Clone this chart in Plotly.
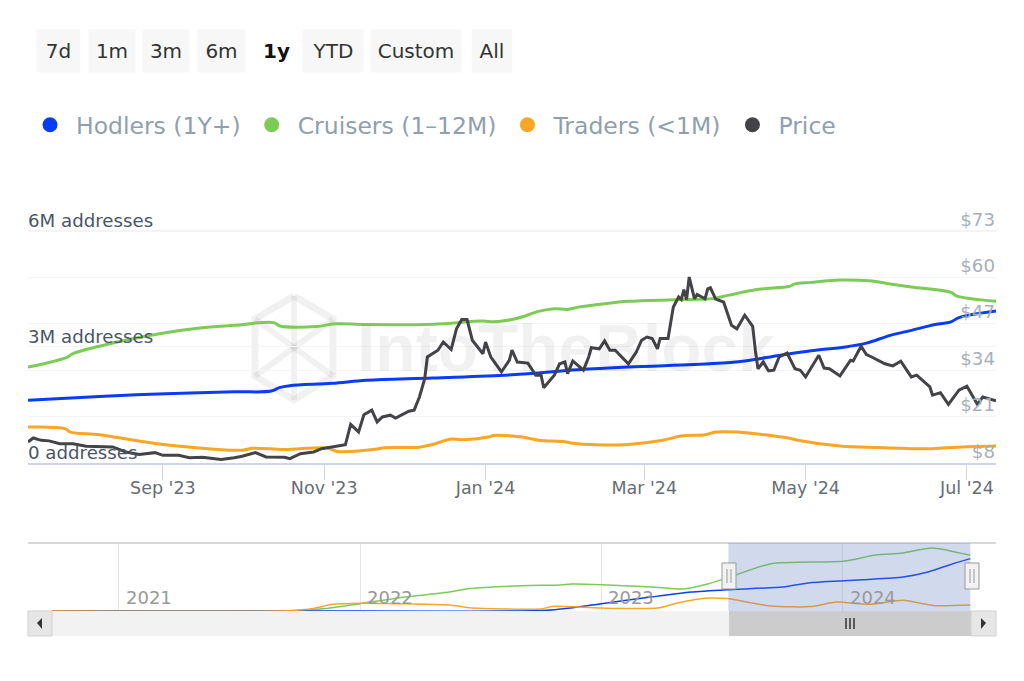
import plotly.graph_objects as go
from datetime import date, timedelta


def paper_x(x_px):
    # Pixel position in the window to paper fraction
    return x_px / 1024


def paper_y(y_px):
    return 1 - y_px / 681


def days_to_dates(days):
    # Series below are held as days since the left edge of the 1y window
    start = date(2023, 7, 12)
    return [start + timedelta(days=d) for d in days]


# Addresses by holding time in the 1y window, in millions
hodlers = {
    "days": [0, 27, 52, 78, 92, 95, 99, 115, 128, 153, 183, 208, 227, 259, 271, 284, 296, 309, 317, 326, 334, 343, 349, 352, 366],
    "value": [1.62, 1.72, 1.79, 1.84, 1.86, 1.95, 2.00, 2.06, 2.14, 2.20, 2.28, 2.41, 2.48, 2.57, 2.64, 2.78, 2.90, 3.00, 3.10, 3.30, 3.43, 3.58, 3.65, 3.76, 3.93],
}
cruisers = {
    "days": [0, 15, 17, 27, 40, 52, 65, 78, 93, 95, 109, 116, 128, 153, 172, 176, 183, 187, 193, 199, 204, 208, 218, 227, 244, 259, 265, 275, 288, 290, 296, 307, 318, 326, 334, 349, 351, 366],
    "value": [2.48, 2.74, 2.83, 3.02, 3.22, 3.37, 3.49, 3.56, 3.63, 3.55, 3.53, 3.60, 3.58, 3.59, 3.67, 3.65, 3.71, 3.78, 3.92, 3.99, 3.97, 4.03, 4.12, 4.18, 4.22, 4.25, 4.34, 4.48, 4.57, 4.63, 4.67, 4.73, 4.71, 4.63, 4.55, 4.41, 4.32, 4.18],
}
traders = {
    "days": [0, 14, 16, 27, 40, 52, 68, 81, 85, 97, 113, 117, 132, 134, 148, 153, 160, 164, 174, 176, 183, 187, 193, 203, 206, 215, 227, 240, 247, 256, 260, 268, 288, 291, 307, 322, 342, 351, 366],
    "value": [0.93, 0.89, 0.80, 0.73, 0.59, 0.47, 0.37, 0.33, 0.38, 0.35, 0.39, 0.30, 0.36, 0.39, 0.41, 0.48, 0.62, 0.60, 0.67, 0.71, 0.70, 0.67, 0.59, 0.55, 0.51, 0.47, 0.48, 0.59, 0.70, 0.73, 0.80, 0.80, 0.64, 0.59, 0.44, 0.40, 0.37, 0.41, 0.44],
}
price = {
    "days": [0, 2, 5, 8, 12, 17, 22, 27, 32, 37, 42, 48, 51, 57, 61, 66, 73, 78, 81, 86, 90, 97, 99, 103, 108, 111, 115, 120, 122, 125, 127, 130, 132, 134, 137, 139, 144, 146, 148, 150, 151, 155, 157, 160, 162, 164, 166, 168, 172, 173, 175, 179, 182,
             183, 185, 189, 192, 194, 195, 199, 201, 203, 204, 206, 210, 212, 213, 216, 218, 220, 222, 227, 230, 232, 234, 236, 238, 239, 242, 244, 246, 247, 248, 249, 250, 252, 253, 256, 257, 258, 260, 263, 266, 268, 271, 274, 275, 276, 278, 280, 282, 284, 287, 290, 292, 294, 299, 301, 303, 307, 311, 312, 315, 317, 319, 324, 327, 330, 333, 334, 336, 341, 342, 345, 348, 352, 355, 359, 361, 363, 366],
    "value": [13.9, 15.0, 14.35, 14.2, 13.4, 13.4, 12.7, 12.7, 12.5, 11.1, 10.4, 10.9, 10.15, 10.15, 9.5, 9.6, 9.0, 9.5, 9.9, 10.9, 9.7, 9.6, 9.2, 10.6, 11.1, 12.0, 12.5, 13.1, 18.8, 16.7, 21.5, 22.8, 19.5, 20.9, 21.4, 20.6, 22.5, 22.8, 26.5, 31.6, 37.7, 39.6, 41.9, 39.8, 45.6, 48.2, 48.2, 42.4, 38.6, 41.9, 37.7, 33.5, 36.8,
              39.6, 36.3, 36.0, 32.6, 32.6, 29.1, 32.6, 35.8, 36.3, 33.0, 36.6, 34.0, 37.7, 40.3, 40.0, 42.2, 39.6, 39.6, 35.8, 39.1, 42.4, 43.3, 42.9, 40.0, 42.9, 42.9, 51.7, 54.5, 53.8, 56.6, 53.8, 60.1, 54.0, 55.2, 54.0, 56.8, 57.1, 53.9, 53.1, 46.6, 45.6, 49.4, 46.3, 39.6, 34.4, 36.3, 33.8, 34.0, 37.7, 38.8, 34.4, 34.0, 32.1, 38.2, 34.6, 34.4, 32.4, 36.8, 36.6, 40.7, 38.4, 37.7, 35.8, 35.2, 36.5, 33.2, 32.1, 32.6, 29.3, 27.0, 27.7, 24.4, 28.4, 29.5, 24.4, 26.5, 26.0, 25.4],
}

# Full history for the navigator strip, in millions
nav_hodlers = {
    "date": ["2020-09-22", "2021-10-01", "2022-10-01", "2022-11-19", "2023-01-01", "2023-03-17", "2023-05-16", "2023-07-10", "2023-10-03", "2023-11-13", "2024-02-01", "2024-04-01", "2024-05-09", "2024-06-16", "2024-07-12"],
    "value": [0.0, 0.0, 0.03, 0.25, 0.55, 1.05, 1.42, 1.60, 1.80, 2.12, 2.35, 2.55, 2.93, 3.55, 3.93],
}
nav_cruisers = {
    "date": ["2020-09-22", "2021-09-12", "2021-11-10", "2022-01-01", "2022-03-10", "2022-05-16", "2022-06-15", "2022-09-03", "2022-11-01", "2022-11-17", "2023-03-17", "2023-05-04", "2023-06-12", "2023-07-10", "2023-09-15", "2024-01-01", "2024-02-20", "2024-04-01", "2024-05-15", "2024-07-12"],
    "value": [0.0, 0.0, 0.18, 0.55, 1.05, 1.42, 1.68, 1.90, 1.95, 2.02, 1.80, 1.65, 2.05, 2.48, 3.55, 3.73, 4.20, 4.35, 4.73, 4.18],
}
nav_traders = {
    "date": ["2020-09-22", "2021-09-12", "2021-10-22", "2021-11-20", "2022-01-01", "2022-05-16", "2022-06-15", "2022-10-01", "2022-10-20", "2023-01-01", "2023-03-27", "2023-04-26", "2023-06-12", "2023-07-10", "2023-09-15", "2023-11-13", "2023-12-22", "2024-02-10", "2024-04-01", "2024-05-20", "2024-07-12"],
    "value": [0.0, 0.02, 0.18, 0.50, 0.58, 0.45, 0.25, 0.15, 0.35, 0.22, 0.22, 0.60, 0.97, 0.93, 0.37, 0.33, 0.67, 0.50, 0.80, 0.40, 0.45],
}

colors = {"Hodlers (1Y+)": "#0a3cf5", "Cruisers (1–12M)": "#7ccb56", "Traders (<1M)": "#f9a525", "Price": "#434348"}

# Initialize figure
fig = go.Figure()

# Add the four lines of the main chart
for name, series, axis, shape in [
    ("Hodlers (1Y+)", hodlers, "y", "spline"),
    ("Cruisers (1–12M)", cruisers, "y", "spline"),
    ("Traders (<1M)", traders, "y", "spline"),
    ("Price", price, "y2", "linear"),
]:
    fig.add_trace(
        go.Scatter(
            x=days_to_dates(series["days"]),
            y=series["value"],
            mode="lines",
            yaxis=axis,
            line=dict(color=colors[name], width=3, shape=shape),
            showlegend=False,
        )
    )

# Legend shows dots, so it gets its own empty traces
for name, color in colors.items():
    fig.add_trace(
        go.Scatter(x=[None], y=[None], mode="markers", name=name, marker=dict(color=color, size=15))
    )

# Add the navigator lines
for name, series in [("Cruisers (1–12M)", nav_cruisers), ("Hodlers (1Y+)", nav_hodlers), ("Traders (<1M)", nav_traders)]:
    fig.add_trace(
        go.Scatter(
            x=series["date"],
            y=series["value"],
            mode="lines",
            xaxis="x2",
            yaxis="y3",
            line=dict(color=colors[name], width=1.5, shape="spline", smoothing=0.6),
            showlegend=False,
        )
    )

shapes = []


def add_box(x0, y0, x1, y1, fill, line="rgba(0,0,0,0)"):
    shapes.append(
        dict(
            type="rect",
            xref="paper",
            yref="paper",
            x0=paper_x(x0),
            x1=paper_x(x1),
            y0=paper_y(y0),
            y1=paper_y(y1),
            fillcolor=fill,
            line=dict(color=line, width=1),
        )
    )


def add_path(points, fill="rgba(0,0,0,0)", line="rgba(0,0,0,0)", width=1, layer="above"):
    path = "M " + " L ".join(f"{paper_x(x)} {paper_y(y)}" for x, y in points)
    shapes.append(
        dict(type="path", xref="paper", yref="paper", path=path, fillcolor=fill, line=dict(color=line, width=width), layer=layer)
    )


# Watermark logo
mark = "rgba(0,0,0,0.055)"
add_path([(294, 296), (333, 319), (333, 376), (294, 400), (255, 376), (255, 319), (294, 296)], line=mark, width=7, layer="below")
add_path([(255, 319), (333, 376)], line=mark, width=6, layer="below")
add_path([(333, 319), (255, 376)], line=mark, width=6, layer="below")
add_path([(294, 296), (294, 400)], line=mark, width=6, layer="below")

# Navigator frame, selection and scrollbar
add_path([(28, 543), (996, 543)], line="#d8d8d8", width=2)
shapes.append(
    dict(
        type="rect",
        xref="x2",
        yref="paper",
        x0="2023-07-12",
        x1="2024-07-12",
        y0=paper_y(611),
        y1=paper_y(543),
        fillcolor="rgba(102,133,194,0.3)",
        line=dict(width=0),
    )
)
add_box(52, 611, 729, 636, "#f2f2f2")
add_box(729, 611, 971, 636, "#cccccc")
add_box(28, 611, 52, 636, "#e6e6e6", "#d0d0d0")
add_box(971, 611, 996, 636, "#e6e6e6", "#d0d0d0")
add_path([(42, 618), (37, 623), (42, 629), (42, 618)], fill="#333333")
add_path([(981, 618), (986, 623), (981, 629), (981, 618)], fill="#333333")
for x in [846, 850, 854]:
    add_path([(x, 618), (x, 629)], line="#333333", width=1.5)
for left in [722, 965]:
    add_box(left, 563, left + 14, 589, "#f2f2f2", "#999999")
    add_path([(left + 5, 569), (left + 5, 583)], line="#999999", width=1)
    add_path([(left + 9, 569), (left + 9, 583)], line="#999999", width=1)

annotations = []

# Range buttons along the top
for label, x0, x1 in [
    ("7d", 37, 80),
    ("1m", 89, 135),
    ("3m", 143, 189),
    ("6m", 198, 245),
    ("<b>1y</b>", 255, 298),
    ("YTD", 303, 363),
    ("Custom", 371, 461),
    ("All", 472, 512),
]:
    annotations.append(
        dict(
            text=label,
            xref="paper",
            yref="paper",
            x=paper_x((x0 + x1) / 2),
            y=paper_y(51),
            xanchor="center",
            yanchor="middle",
            width=x1 - x0,
            height=42,
            align="center",
            valign="middle",
            showarrow=False,
            bgcolor="rgba(0,0,0,0)" if "1y" in label else "#f7f7f7",
            borderpad=0,
            font=dict(size=20, color="#111111" if "1y" in label else "#333333"),
        )
    )

# Watermark name
annotations.append(
    dict(
        text="<b>IntoTheBlock</b>",
        xref="paper",
        yref="paper",
        x=paper_x(355),
        y=paper_y(348),
        xanchor="left",
        yanchor="middle",
        showarrow=False,
        font=dict(family="Liberation Sans", size=66, color="rgba(0,0,0,0.055)"),
    )
)

# Year labels inside the navigator
for year in [2021, 2022, 2023, 2024]:
    annotations.append(
        dict(
            text=str(year),
            xref="x2",
            yref="paper",
            x=f"{year}-01-01",
            y=paper_y(597),
            xanchor="left",
            yanchor="middle",
            xshift=5,
            showarrow=False,
            font=dict(size=18, color="#999999"),
        )
    )

# Update layout
fig.update_layout(
    width=1024,
    height=681,
    margin=dict(l=0, r=0, t=0, b=0, autoexpand=False),
    plot_bgcolor="white",
    paper_bgcolor="white",
    font=dict(family="DejaVu Sans"),
    shapes=shapes,
    annotations=annotations,
    legend=dict(
        orientation="h",
        x=paper_x(24),
        y=paper_y(125),
        xanchor="left",
        yanchor="middle",
        itemwidth=42,
        bgcolor="rgba(0,0,0,0)",
        font=dict(size=23.5, color="#8f9fae"),
    ),
    xaxis=dict(
        domain=[paper_x(28), paper_x(996)],
        range=["2023-07-12", "2024-07-12"],
        anchor="y",
        tickvals=["2023-09-01", "2023-11-01", "2024-01-01", "2024-03-01", "2024-05-01", "2024-07-01"],
        tickformat="%b '%y",
        ticks="outside",
        ticklen=15,
        tickcolor="#ccd6eb",
        ticklabelstandoff=-7,
        showgrid=False,
        showline=True,
        linecolor="#ccd6eb",
        linewidth=2,
        tickfont=dict(size=17.5, color="#666d75"),
    ),
    yaxis=dict(
        domain=[paper_y(463), paper_y(229)],
        range=[0, 6.05],
        tickvals=[0, 3, 6],
        ticktext=["0 addresses", "3M addresses", "6M addresses"],
        ticklabelposition="inside top",
        ticklabeloverflow="allow",
        ticklabelstandoff=-3,
        ticklabelshift=2,
        gridcolor="#f4f4f4",
        zeroline=False,
        tickfont=dict(size=18.2, color="#4a5568"),
    ),
    yaxis2=dict(
        overlaying="y",
        side="right",
        range=[8, 73.56],
        tickvals=[8, 21, 34, 47, 60, 73],
        ticktext=["$8", "$21", "$34", "$47", "$60", "$73"],
        ticklabelposition="inside top",
        ticklabeloverflow="allow",
        ticklabelstandoff=-2,
        ticklabelshift=1,
        gridcolor="#f4f4f4",
        zeroline=False,
        tickfont=dict(size=18.2, color="#a6b0ba"),
    ),
    xaxis2=dict(
        domain=[paper_x(52), paper_x(971)],
        range=["2020-09-22", "2024-07-13"],
        anchor="y3",
        dtick="M12",
        tick0="2021-01-01",
        showticklabels=False,
        gridcolor="#e6e6e6",
        zeroline=False,
    ),
    yaxis3=dict(
        domain=[paper_y(611), paper_y(543)],
        range=[0, 5.1],
        anchor="x2",
        visible=False,
    ),
)

fig.write_html("out.html", config=dict(displayModeBar=False), post_script="document.body.style.margin = '0';")
